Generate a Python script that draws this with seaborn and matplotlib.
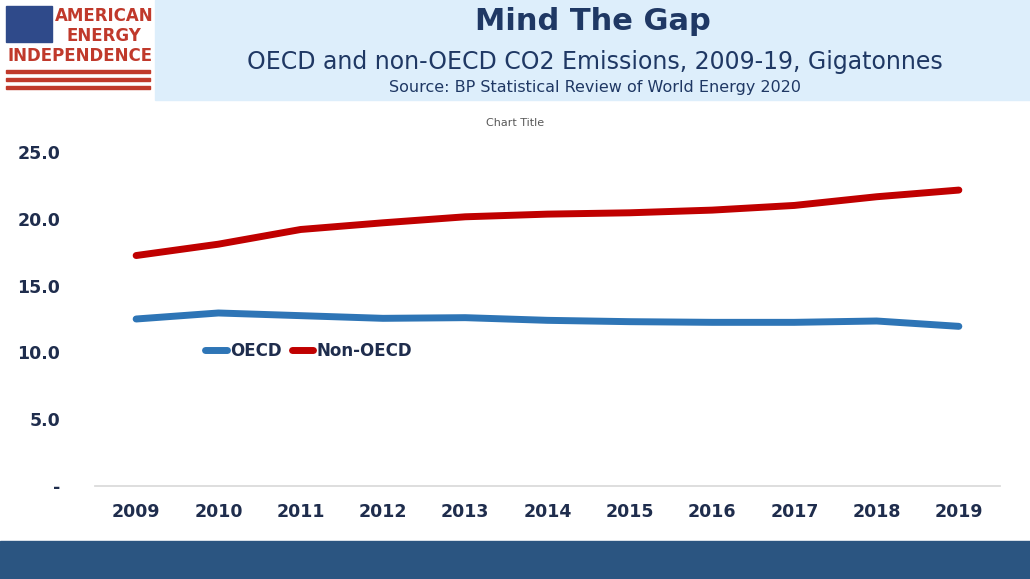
import matplotlib
matplotlib.use("Agg")
import matplotlib.pyplot as plt
import seaborn as sns
import pandas as pd
from matplotlib.patches import Rectangle

years = [2009, 2010, 2011, 2012, 2013, 2014, 2015, 2016, 2017, 2018, 2019]
oecd = [12.5, 12.95, 12.75, 12.55, 12.6, 12.4, 12.3, 12.25, 12.25, 12.35, 11.95]
non_oecd = [17.25, 18.1, 19.2, 19.7, 20.15, 20.35, 20.45, 20.65, 21.0, 21.65, 22.15]
yticks = [0, 5, 10, 15, 20, 25]
ytick_labels = ["-", "5.0", "10.0", "15.0", "20.0", "25.0"]

df = pd.DataFrame({"Year": [str(y) for y in years] * 2,
                   "Value": oecd + non_oecd,
                   "Series": ["OECD"] * len(years) + ["Non-OECD"] * len(years)})

sns.set_theme(style="white")
plt.rcParams['font.family'] = ['DejaVu Sans']
fig = plt.figure(figsize=(10.30, 5.79), dpi=100)
W, H = 1030, 579
ax = fig.add_axes([95 / W, 1 - 486 / H, 905 / W, (486 - 152) / H])
sns.lineplot(data=df, x="Year", y="Value", hue="Series",
             palette={"OECD": "#2E75B6", "Non-OECD": "#C00000"},
             linewidth=5, ax=ax, sort=False)
ax.set_ylim(0, 25)
ax.set_xlim(-0.5, 10.5)
ax.set_yticks(yticks)
ax.set_yticklabels(ytick_labels)
ax.set_xlabel("")
ax.set_ylabel("")
for s in ["top", "right", "left"]:
    ax.spines[s].set_visible(False)
ax.spines["bottom"].set_color("#D9D9D9")
ax.tick_params(length=0, labelsize=12.5, colors="#1F2D4D")
for t in ax.get_xticklabels() + ax.get_yticklabels():
    t.set_fontweight("bold")
ax.tick_params(axis="y", pad=25)
ax.tick_params(axis="x", pad=12)
leg = ax.legend(loc="center left", bbox_to_anchor=(0.105, 0.405), ncol=2, frameon=False,
                handlelength=1.3, columnspacing=0.6, handletextpad=0.2,
                prop={"weight": "bold", "size": 12})
for t in leg.get_texts():
    t.set_color("#1F2D4D")

# header
fig.patches.append(Rectangle((155 / W, 1 - 100 / H), 875 / W, 100 / H,
                             transform=fig.transFigure, color="#DDEEFB", zorder=0))
fig.text(593 / W, 1 - 22 / H, "Mind The Gap", ha="center", va="center",
         fontsize=22, fontweight="bold", color="#1F3864")
fig.text(595 / W, 1 - 62 / H, "OECD and non-OECD CO2 Emissions, 2009-19, Gigatonnes",
         ha="center", va="center", fontsize=17, color="#1F3864")
fig.text(595 / W, 1 - 88 / H, "Source: BP Statistical Review of World Energy 2020",
         ha="center", va="center", fontsize=11.5, color="#1F3864")
fig.text(515 / W, 1 - 123 / H, "Chart Title", ha="center", va="center",
         fontsize=8, color="#595959")

# logo
fig.patches.append(Rectangle((6 / W, 1 - 42 / H), 46 / W, 36 / H,
                             transform=fig.transFigure, color="#2F4A8A"))
fig.text(104 / W, 1 - 16 / H, "AMERICAN", ha="center", va="center",
         fontsize=12, color="#C0392B", fontweight="bold")
fig.text(104 / W, 1 - 36 / H, "ENERGY", ha="center", va="center",
         fontsize=12, color="#C0392B", fontweight="bold")
fig.text(80 / W, 1 - 56 / H, "INDEPENDENCE", ha="center", va="center",
         fontsize=12, color="#C0392B", fontweight="bold")
for yy in [70, 78, 86]:
    fig.patches.append(Rectangle((6 / W, 1 - (yy + 3) / H), 144 / W, 3 / H,
                                 transform=fig.transFigure, color="#C0392B"))

# bottom band
fig.patches.append(Rectangle((0, 0), 1, 38 / H, transform=fig.transFigure,
                             color="#2B5581"))
fig.savefig("out.png", dpi=100)
